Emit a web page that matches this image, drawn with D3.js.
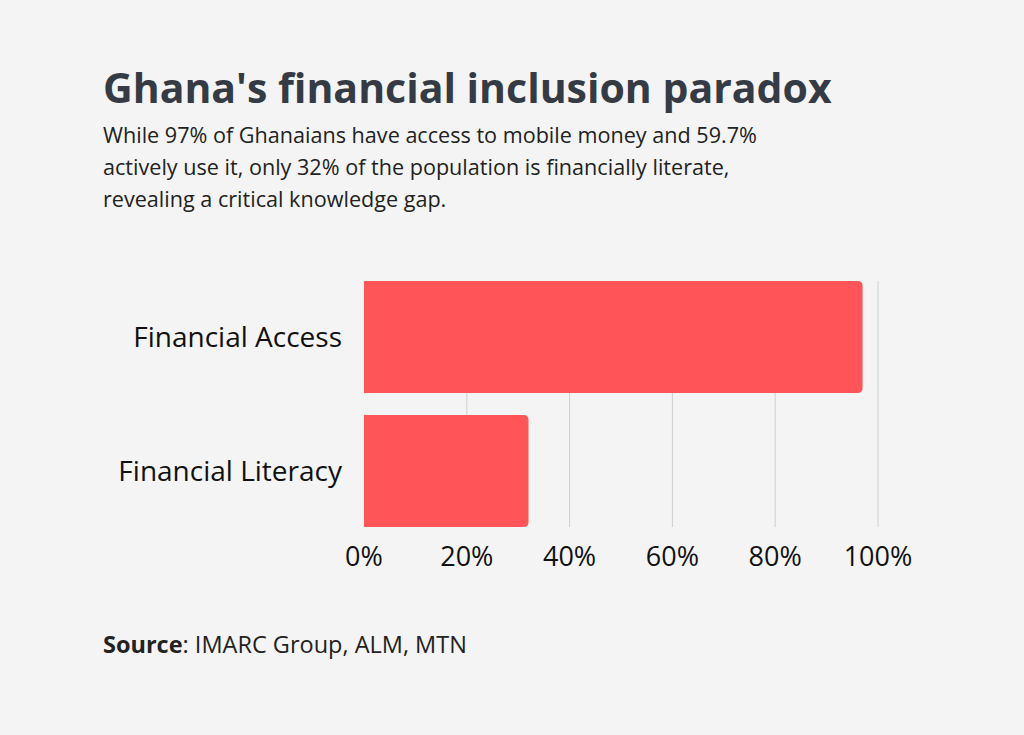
<!DOCTYPE html>
<html><head><meta charset="utf-8">
<script src="https://cdn.jsdelivr.net/npm/d3@7"></script>
<style>body{margin:0;background:#f4f4f4;font-family:"Open Sans","Noto Sans",sans-serif;}</style>
</head><body><div id="chart"></div>
<script>
const categories = ["Financial Access", "Financial Literacy"];
const values = [97, 32];
const ticks = [0, 20, 40, 60, 80, 100];

const W = 1024, H = 735;
const svg = d3.select("#chart").append("svg").attr("width", W).attr("height", H);
svg.append("rect").attr("width", W).attr("height", H).attr("fill", "#f4f4f4");

svg.append("text").attr("x", 103).attr("y", 103)
  .style("font-size", "41px").style("font-weight", "bold").style("fill", "#353b45")
  .text("Ghana's financial inclusion paradox");
const sub = ["While 97% of Ghanaians have access to mobile money and 59.7%",
  "actively use it, only 32% of the population is financially literate,",
  "revealing a critical knowledge gap."];
svg.append("g").selectAll("text").data(sub).enter().append("text")
  .attr("x", 103).attr("y", (d, i) => 143 + i * 32)
  .style("font-size", "21.6px").style("fill", "#222").text(d => d);

const x = d3.scaleLinear().domain([0, 100]).range([364, 878]);
const y = d3.scaleBand().domain(categories).range([281, 527]).paddingInner(0.164);

svg.append("g").selectAll("line").data(ticks.slice(1)).enter().append("line")
  .attr("x1", d => x(d)).attr("x2", d => x(d)).attr("y1", 281).attr("y2", 527)
  .attr("stroke", "#cfcfcf").attr("stroke-width", 1);

const r = 5;
svg.append("g").selectAll("path").data(values).enter().append("path")
  .attr("fill", "#ff5558")
  .attr("d", (d, i) => {
    const x0 = x(0), x1 = x(d), y0 = y(categories[i]), h = y.bandwidth();
    return `M${x0},${y0}H${x1 - r}Q${x1},${y0} ${x1},${y0 + r}V${y0 + h - r}Q${x1},${y0 + h} ${x1 - r},${y0 + h}H${x0}Z`;
  });

svg.append("g").selectAll("text").data(categories).enter().append("text")
  .attr("x", 342).attr("y", d => y(d) + y.bandwidth() / 2 + 10)
  .attr("text-anchor", "end").style("font-size", "28px").style("fill", "#111").text(d => d);

svg.append("g").selectAll("text").data(ticks).enter().append("text")
  .attr("x", d => x(d)).attr("y", 566).attr("text-anchor", "middle")
  .style("font-size", "27px").style("fill", "#111").text(d => d + "%");

const src = svg.append("text").attr("x", 103).attr("y", 653).style("font-size", "23.5px").style("fill", "#222");
src.append("tspan").style("font-weight", "bold").text("Source");
src.append("tspan").text(": IMARC Group, ALM, MTN");
</script></body></html>
